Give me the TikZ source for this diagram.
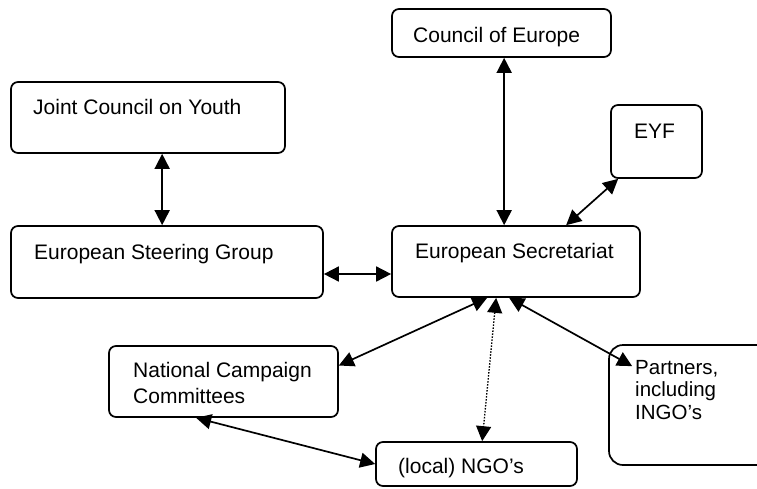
\documentclass[tikz,border=0pt]{standalone}
\usepackage{fontspec}
\setmainfont{Liberation Sans}
\usetikzlibrary{arrows.meta,positioning,calc}

\begin{document}
\begin{tikzpicture} [x=1pt, y=-1pt,
		box/.style={draw, rounded corners=7pt, line width=1.7pt, inner sep=0pt},
		label_txt/.style={anchor=base west, inner sep=0pt, align=left, font=\fontsize{21}{26}\selectfont},
		link/.style={{Triangle[length=15pt,width=15pt]}-{Triangle[length=15pt,width=15pt]}, line width=1.7pt}]
		
		\clip (0,0) rectangle (757,488);
		
		% boxes
		\node (CoE) [box, minimum width=219pt, minimum height=48pt] at (501.5,33) {};
		
		\node (JCY) [box, minimum width=274pt, minimum height=71pt] at (148,117.5) {};
		
		\node (ESG) [box, minimum width=312pt, minimum height=72pt] at (167,262) {};
		
		\node (Sec) [box, minimum width=248pt, minimum height=71pt] at (516,261.5) {};
		
		\node (EYF) [box, minimum width=91pt, minimum height=73pt] at (656.5,141.5) {};
		
		\node (NCC) [box, minimum width=229pt, minimum height=71pt] at (223.5,381.5) {};
		
		\node (NGO) [box, minimum width=201pt, minimum height=44pt] at (476.5,464) {};
		
		\node (Partners) [box, rounded corners=14pt, minimum width=191pt, minimum height=120pt] at (704.5,405) {};
		
		% texts (multi-line ones sit on their last line)
		\node (CoE_t) [label_txt] at (413,42) {Council of Europe};
		
		\node (JCY_t) [label_txt] at (33,114) {Joint Council on Youth};
		
		\node (ESG_t) [label_txt] at (34,259) {European Steering Group};
		
		\node (Sec_t) [label_txt] at (415,258) {European Secretariat};
		
		\node (EYF_t) [label_txt] at (634,138) {EYF};
		
		\node (NCC_t) [label_txt] at (133,403) {National Campaign\\Committees};
		
		\node (NGO_t) [label_txt] at (398,473) {(local) NGO's};
		
		\node (Partners_t) [label_txt, font=\fontsize{20.5}{22.5}\selectfont] at (635,419) {Partners,\\including\\INGO's};
		
		% connectors
		\draw [link] ([xshift=113pt]CoE.south west) to ([xshift=113pt]Sec.north west);
		
		\draw [link] ([xshift=152pt]JCY.south west) to ([xshift=152pt]ESG.north west);
		
		\draw [link] ([yshift=-12pt]ESG.east) to ([yshift=-12pt]ESG.east -| Sec.west);
		
		\draw [link] ([xshift=8pt]EYF.south west) to ([xshift=175pt]Sec.north west);
		
		\draw [link] ([xshift=96pt]Sec.south west) to ([yshift=16pt]NCC.east);
		
		\draw [link, line width=1.3pt, dash pattern=on 1.5pt off 1.5pt] ([xshift=105pt]Sec.south west) to ([xshift=107pt]NGO.north west);
		
		\draw [link] ([xshift=118pt]Sec.south west) to ([shift={(24pt,-22pt)}]Partners.north west);
		
		\draw [link] ([xshift=88pt]NCC.south west) to (NGO.west);
		
\end{tikzpicture}
\end{document}
